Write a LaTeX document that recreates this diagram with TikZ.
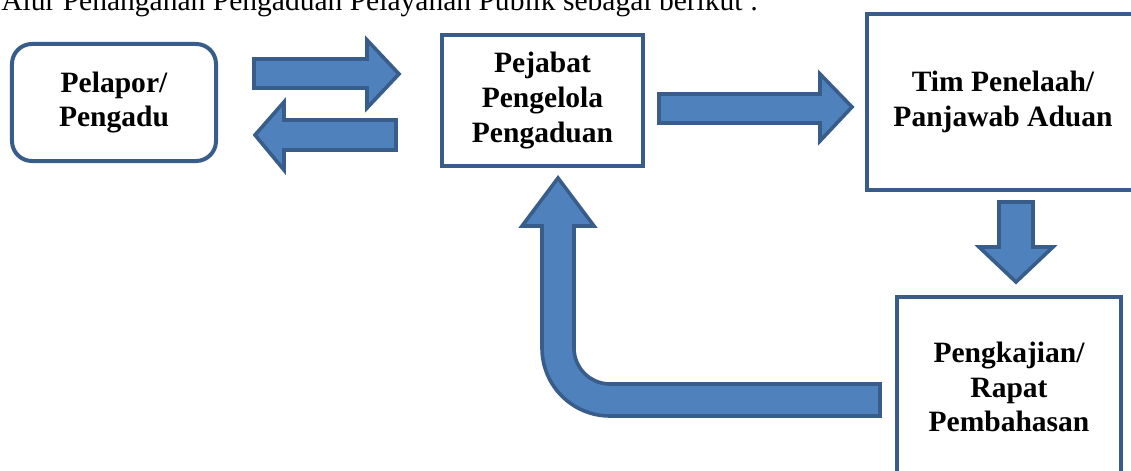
\documentclass[tikz,border=0pt]{standalone}
\usepackage{fontspec}
\setmainfont{Liberation Serif}
\definecolor{arrowfill}{HTML}{4F81BD}
\definecolor{arrowline}{HTML}{385D8A}
\tikzset{
  box/.style={draw=arrowline, line width=0.1cm, fill=white, align=center,
    font=\bfseries\fontsize{21}{24.8}\selectfont, inner sep=0pt},
  blockarrow/.style={draw=arrowline, fill=arrowfill, line width=0.09cm}
}
\begin{document}
\begin{tikzpicture}[x=0.025cm, y=-0.025cm]
      \useasboundingbox (0,0) rectangle (1131,471);

      % Heading line (cut off at the top)
      \node[anchor=base west, inner sep=0pt, font=\fontsize{21}{25}\selectfont] (title) at (1,11)
        {Alur Penanganan Pengaduan Pelayanan Publik sebagai berikut :};

      % Boxes
      \node[box, rounded corners=0.5cm, minimum width=5.1cm, minimum height=2.925cm] (pelapor) at (114,102.5) {Pelapor/\\Pengadu};
      \node[box, minimum width=5.025cm, minimum height=3.275cm] (pejabat) at (542.5,100.5) {Pejabat\\Pengelola\\Pengaduan};
      \node[box, minimum width=6.8cm, minimum height=4.4cm] (tim) at (1003,102) {Tim Penelaah/\\Panjawab Aduan};
      \node[box, minimum width=5.6cm, minimum height=4.5cm] (rapat) at (1009,387) {Pengkajian/\\Rapat\\Pembahasan};

      % Arrows between pelapor and pejabat
      \draw[blockarrow] (254,59) -- (367,59) -- (367,40) -- (399,74) -- (367,108) -- (367,88) -- (254,88) -- cycle;
      \draw[blockarrow] (396,120) -- (284,120) -- (284,102) -- (255,135) -- (284,170) -- (284,150) -- (396,150) -- cycle;

      % Arrow pejabat to tim
      \draw[blockarrow] (659,94) -- (820,94) -- (820,74) -- (852,107) -- (820,141) -- (820,123) -- (659,123) -- cycle;

      % Arrow tim to rapat
      \draw[blockarrow] (999,202) -- (1033,202) -- (1033,247) -- (1053,247) -- (1016,282) -- (979,247) -- (999,247) -- cycle;

      % Bent arrow rapat back to pejabat
      \draw[blockarrow] (880,384) -- (610,384) .. controls (590.1,384) and (574,367.9) .. (574,348)
        -- (574,226) -- (594,226) -- (558,178) -- (522,226) -- (542,226) -- (542,348)
        .. controls (542,385.6) and (572.4,416) .. (610,416) -- (880,416) -- cycle;
    \end{tikzpicture}
\end{document}
